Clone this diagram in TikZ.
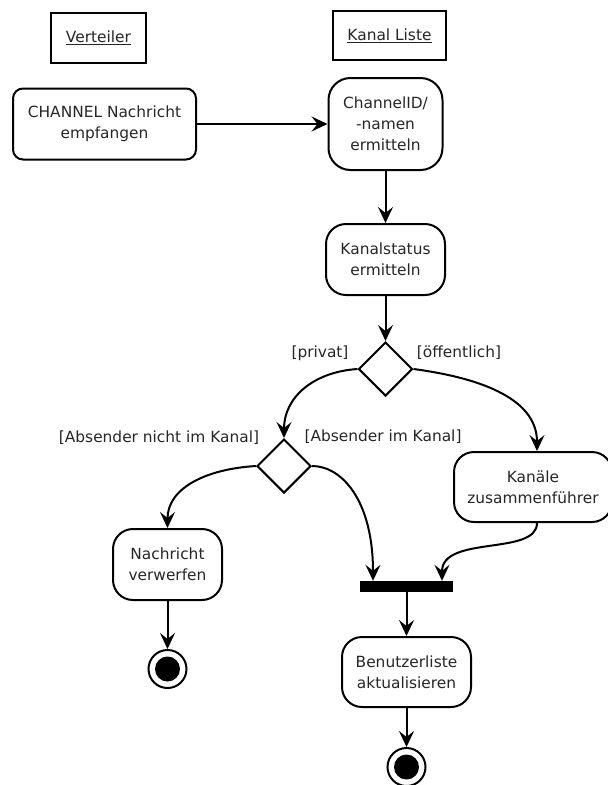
\documentclass[tikz,border=0pt]{standalone}
\usepackage{fontspec}
\setmainfont{DejaVu Sans}
\usetikzlibrary{shapes.geometric,arrows.meta}
\begin{document}
\begin{tikzpicture}[x=1pt,y=-1pt,
  every node/.style={font=\fontsize{15.4}{21}\selectfont, text=black!85},
  lane/.style={draw, line width=2pt, inner sep=0pt},
  action/.style={draw, line width=2pt, rounded corners=20pt, align=center, inner sep=0pt},
  decision/.style={draw, diamond, line width=2pt, minimum width=54pt, minimum height=54pt, inner sep=0pt},
  guard/.style={inner sep=0pt},
  flow/.style={line width=2pt, -{Stealth[length=16pt,width=15pt,inset=6pt]}},
  syncbar/.style={fill=black, minimum width=93pt, minimum height=11pt, inner sep=0pt},
  final/.style={circle, draw, line width=2pt, minimum size=38pt, inner sep=0pt},
  finaldot/.style={circle, fill=black, minimum size=25pt, inner sep=0pt}
]
\path[use as bounding box] (0,0) rectangle (608,785);

% swimlane headers
\node[lane, minimum width=95pt, minimum height=50pt] (verteiler) at (98.5,38) {\underline{Verteiler}};
\node[lane, minimum width=113pt, minimum height=49pt] (kanalliste) at (389.5,35.5) {\underline{Kanal Liste}};

% actions
\node[action, rounded corners=10pt, minimum width=183pt, minimum height=71pt] (recv) at (104.5,124) {CHANNEL Nachricht\\empfangen};
\node[action, rounded corners=22pt, minimum width=114pt, minimum height=92pt] (chanid) at (385.5,124) {ChannelID/\\-namen\\ermitteln};
\node[action, minimum width=119pt, minimum height=71pt] (status) at (385.5,259.5) {Kanalstatus\\ermitteln};
\node[action, minimum width=158pt, minimum height=70pt] (merge) at (533,487) {Kanäle\\zusammenführer};
\node[action, minimum width=109pt, minimum height=71pt] (drop) at (167.5,564.5) {Nachricht\\verwerfen};
\node[action, minimum width=129pt, minimum height=70pt] (update) at (406.5,672) {Benutzerliste\\aktualisieren};

% decisions and join
\node[decision] (d1) at (385.5,369) {};
\node[decision] (d2) at (284,466) {};
\node[syncbar] (join) at (406.5,586.5) {};

% final states
\node[final] (end1) at (167.5,669) {};
\node[finaldot] (end1dot) at (end1) {};
\node[final] (end2) at (406.5,767) {};
\node[finaldot] (end2dot) at (end2) {};

% guards
\node[guard] (lprivat) at (320,353) {[privat]};
\node[guard] (loeff) at (459,353) {[öffentlich]};
\node[guard] (lnicht) at (159,438) {[Absender nicht im Kanal]};
\node[guard] (lim) at (383,437) {[Absender im Kanal]};

% control flow
\draw[flow] (recv.east) -- (chanid.west);
\draw[flow] (chanid.south) -- (status.north);
\draw[flow] (status.south) -- (d1.north);
\draw[flow] (d1.west) .. controls +(-45,3) and +(0,-40) .. (d2.north);
\draw[flow] (d1.east) .. controls +(60,8) and +(0,-55) .. ([xshift=4pt]merge.north);
\draw[flow] (d2.west) .. controls +(-50,3) and +(0,-40) .. (drop.north);
\draw[flow] (d2.east) .. controls +(30,0) and +(0,-80) .. ([xshift=-33.5pt]join.north);
\draw[flow] ([xshift=4pt]merge.south) .. controls +(0,33) and +(0,-46) .. ([xshift=35.5pt]join.north);
\draw[flow] (join.south) -- (update.north);
\draw[flow] (drop.south) -- (end1.north);
\draw[flow] (update.south) -- (end2.north);
\end{tikzpicture}
\end{document}
